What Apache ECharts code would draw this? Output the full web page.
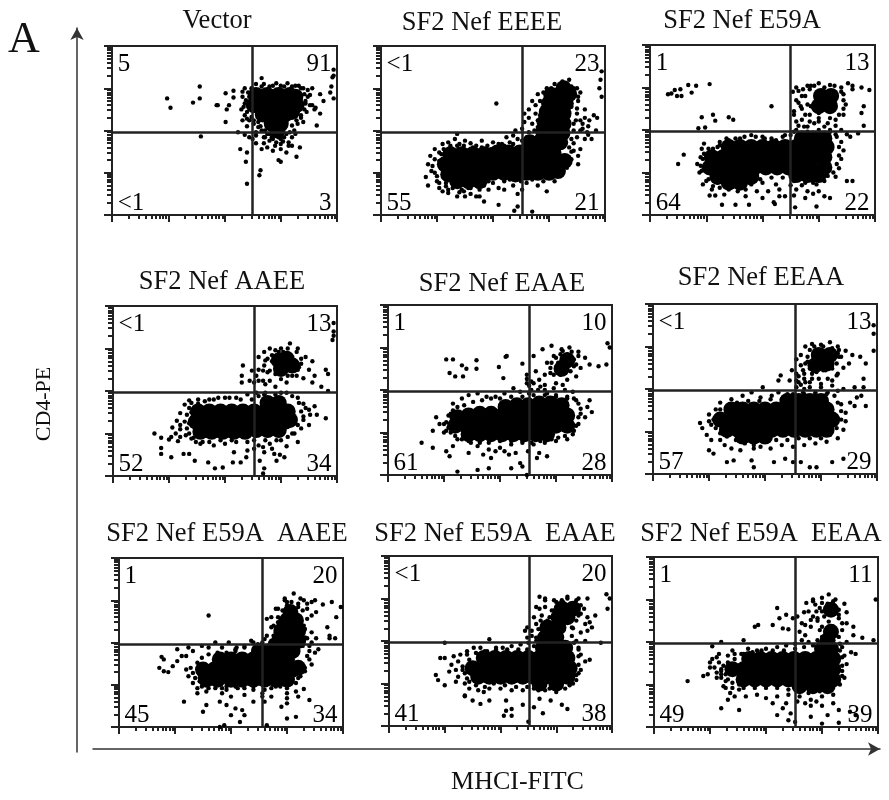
<!DOCTYPE html>
<html><head><meta charset="utf-8">
<style>html,body{margin:0;background:#fff}#c{width:889px;height:800px}</style>
<script src="https://cdn.jsdelivr.net/npm/echarts@6/dist/echarts.min.js"></script>
</head><body><div id="c"></div>
<script>
// Axis units: 50 units = one log decade (0..200 = 10^0..10^4)
const panelTitles=['Vector','SF2 Nef EEEE','SF2 Nef E59A','SF2 Nef AAEE','SF2 Nef EAAE','SF2 Nef EEAA','SF2 Nef E59A  AAEE','SF2 Nef E59A  EAAE','SF2 Nef E59A  EEAA'];
const quadrantPct=[['5','91','<1','3'],['<1','23','55','21'],['1','13','64','22'],['<1','13','52','34'],['1','10','61','28'],['<1','13','57','29'],['1','20','45','34'],['<1','20','41','38'],['1','11','49','39']];
const gateX=[125,126,125,126,126,127,128,126,126];
const gateY=[98,98,98,98,98,98,98,98,98];
const logSteps=[15,24,30,35,39,42,45,48];

const core1=[[128,142],[138,142],[148,142],[158,142],[163,140],[126,130],[136,130],[146,130],[156,130],[164,130],[134,119],[144,119],[154,119],[160,122],[142,108],[150,108],[147,100]];
const dots1=[[49,138],[52,127],[78,152],[78,138],[72,133],[94,130],[93,130],[101,144],[108,147],[104,130],[102,125],[108,139],[101,110],[116,146],[133,162],[197,172],[197,165],[196,163],[195,152],[194,145],[197,138],[185,143],[188,135],[185,120],[182,106],[181,127],[178,130],[114,78],[120,74],[119,63],[120,37],[132,53],[131,47],[148,65],[150,63],[164,69],[167,80],[155,74],[160,82],[157,82],[135,92],[133,78],[79,93],[116,140],[118,132],[115,125],[118,118],[122,112],[120,105],[126,108],[130,104],[128,98],[133,100],[118,150],[124,150],[128,155],[135,155],[140,152],[146,156],[150,153],[156,156],[160,152],[166,153],[170,150],[174,148],[174,140],[172,135],[176,130],[173,122],[168,115],[165,108],[162,100],[170,110],[160,92],[157,86],[150,84],[145,82],[140,88],[135,85],[138,80],[128,85],[122,92],[118,95],[112,98],[143,90],[150,90],[155,96],[140,96]];
const fringe1=[[117,128],[119,136],[121,145],[120,122],[124,116],[126,112],[130,110],[132,105],[136,100],[138,96],[142,92],[148,92],[153,92],[158,98],[160,106],[164,112],[168,118],[171,125],[172,132],[171,143],[168,150],[163,153],[153,152],[143,153],[133,152],[126,148],[122,140],[120,114],[128,94],[146,86],[152,87],[136,92],[163,96],[176,142],[178,150],[180,125],[150,78],[143,76],[125,90],[116,112]];

const core2=[[62,72],[72,72],[82,72],[92,72],[57,60],[67,60],[77,60],[87,60],[97,60],[60,48],[70,48],[80,48],[90,48],[68,40],[78,40],[88,40],[104,74],[114,74],[124,74],[134,74],[144,74],[154,74],[107,60],[117,60],[127,60],[137,60],[147,60],[157,60],[164,64],[100,50],[110,50],[120,48],[130,50],[140,50],[150,50],[158,52],[133,86],[143,88],[150,86],[160,86],[145,98],[153,97],[162,97],[146,110],[153,108],[163,108],[148,122],[152,120],[163,120],[150,132],[155,132],[165,132],[152,142],[160,143],[168,143],[163,150]];
const dots2=[[42,60],[45,52],[40,45],[44,70],[48,78],[50,40],[52,32],[42,35],[55,84],[60,86],[66,90],[62,82],[70,84],[75,88],[80,85],[85,82],[68,96],[90,88],[95,82],[100,86],[105,84],[110,82],[115,86],[112,92],[118,94],[122,90],[126,88],[130,92],[120,100],[126,102],[132,98],[137,100],[135,108],[140,112],[132,115],[128,110],[138,120],[132,125],[128,120],[138,130],[142,135],[135,135],[145,145],[148,150],[140,143],[155,155],[152,150],[162,158],[170,152],[175,150],[168,160],[178,145],[176,135],[170,128],[175,120],[178,112],[172,108],[180,108],[185,105],[178,100],[190,118],[193,115],[182,125],[186,112],[192,100],[185,95],[175,92],[172,85],[178,78],[170,75],[182,90],[188,90],[176,70],[168,80],[55,28],[60,30],[70,27],[75,22],[80,25],[85,22],[78,32],[88,30],[92,35],[100,38],[105,32],[110,40],[115,42],[120,45],[125,40],[130,38],[135,42],[140,35],[145,40],[150,45],[155,48],[155,40],[148,28],[118,35],[122,25],[105,12],[122,10],[135,4],[119,5],[88,22],[92,16],[126,30],[197,170],[196,160],[195,150],[197,140],[103,132],[138,90],[144,104],[146,112],[144,124],[148,98],[112,52],[118,50],[108,46],[124,50],[96,40],[58,38],[48,66],[52,74]];
const fringe2=[[46,58],[48,50],[50,46],[52,64],[54,72],[56,78],[62,80],[68,82],[74,82],[82,80],[90,80],[98,78],[52,38],[58,34],[64,32],[72,30],[80,32],[86,34],[94,40],[102,46],[108,50],[116,52],[126,52],[136,50],[144,52],[150,54],[158,50],[166,56],[170,66],[172,76],[170,90],[172,100],[174,112],[175,126],[176,140],[172,150],[165,156],[158,150],[150,142],[146,132],[144,120],[144,108],[142,96],[138,88],[128,84],[118,84],[108,84],[136,84],[112,78],[140,104],[142,118],[148,130],[153,146],[60,26],[68,22],[74,28],[96,30],[110,30],[130,46],[140,46],[148,48],[176,60],[180,102],[182,115],[184,98]];

const core3=[[70,80],[80,80],[90,80],[100,80],[110,80],[120,80],[130,80],[140,80],[150,80],[157,80],[55,68],[65,68],[75,68],[85,68],[95,68],[105,68],[115,68],[125,68],[135,68],[145,68],[155,68],[53,56],[63,56],[73,56],[83,56],[93,56],[103,56],[113,56],[123,56],[133,56],[143,56],[155,56],[60,45],[70,45],[80,45],[90,45],[130,47],[140,47],[150,47],[70,38],[80,38],[135,90],[145,90],[155,90],[152,140],[161,140],[150,128],[160,128]];
const dots3=[[16,142],[19,143],[22,147],[27,148],[28,140],[24,140],[34,153],[41,152],[37,144],[53,154],[46,115],[56,118],[58,111],[70,115],[74,112],[43,102],[49,103],[25,60],[30,71],[108,128],[64,12],[76,12],[88,12],[111,13],[110,15],[129,9],[58,23],[53,23],[120,22],[128,23],[42,60],[44,50],[45,68],[46,78],[48,84],[50,40],[47,36],[55,30],[62,32],[70,30],[66,24],[78,28],[85,30],[95,28],[105,28],[115,30],[112,36],[100,38],[90,36],[125,35],[135,35],[145,38],[155,40],[165,45],[168,55],[170,66],[172,76],[170,86],[175,95],[165,95],[160,100],[150,100],[140,104],[130,100],[125,94],[118,92],[108,90],[100,92],[90,94],[80,90],[70,88],[62,82],[130,110],[128,122],[132,132],[127,145],[130,150],[136,148],[140,152],[135,125],[138,118],[142,110],[150,110],[158,108],[165,112],[172,118],[174,130],[172,142],[170,150],[176,155],[180,148],[188,150],[195,147],[190,128],[188,120],[190,105],[135,140],[143,152],[150,155],[160,153],[140,130],[145,25],[155,22],[138,20],[148,10],[130,30],[175,40],[180,40]];
const fringe3=[[45,58],[46,52],[47,66],[48,72],[52,78],[56,78],[60,80],[62,86],[68,90],[76,90],[84,92],[94,92],[102,90],[112,88],[120,94],[128,98],[140,98],[150,98],[160,98],[166,92],[168,80],[168,70],[166,60],[163,50],[158,46],[148,36],[138,38],[128,40],[118,44],[108,44],[98,42],[88,38],[80,32],[70,32],[60,38],[52,42],[56,34],[132,105],[135,112],[128,118],[134,128],[130,135],[138,140],[142,148],[146,152],[155,150],[164,152],[170,145],[172,135],[172,125],[168,118],[160,114],[150,114],[142,118],[143,128],[146,108],[155,104],[165,105],[170,100],[178,92],[185,96],[132,146],[150,120],[137,104],[180,152],[115,22],[100,20],[85,22],[140,28],[150,28],[160,20]];

const core4=[[76,76],[86,76],[96,76],[106,76],[116,76],[126,76],[136,76],[146,76],[156,76],[74,64],[84,64],[94,64],[104,64],[114,64],[124,64],[134,64],[144,64],[154,64],[158,66],[78,52],[88,52],[98,52],[108,52],[118,52],[128,54],[138,54],[148,54],[138,86],[148,86],[155,138],[148,136],[150,126],[160,130]];
const dots4=[[37,50],[43,45],[43,33],[43,26],[52,22],[50,43],[53,57],[57,65],[60,74],[64,84],[68,89],[58,41],[63,26],[68,26],[73,18],[85,16],[91,9],[98,10],[107,16],[114,16],[119,22],[134,3],[135,9],[131,18],[146,18],[149,25],[153,22],[60,55],[65,48],[68,62],[70,75],[72,45],[76,85],[82,88],[90,90],[100,92],[110,92],[120,96],[128,98],[135,96],[145,96],[155,98],[165,92],[170,85],[175,78],[170,70],[165,60],[180,82],[182,72],[190,68],[175,60],[160,50],[150,42],[140,38],[130,36],[120,40],[110,40],[100,38],[90,36],[80,40],[120,30],[108,28],[135,28],[142,32],[155,35],[165,40],[124,124],[115,110],[115,118],[122,112],[116,130],[130,140],[135,146],[140,150],[145,148],[150,150],[158,156],[165,150],[172,140],[178,135],[175,125],[170,115],[180,118],[190,125],[192,120],[186,105],[178,110],[192,100],[130,125],[135,130],[138,122],[142,135],[145,120],[130,112],[136,108],[145,105],[155,110],[160,118],[165,125],[168,132],[148,142],[138,138],[197,180],[197,170],[197,165],[196,160]];
const fringe4=[[66,72],[64,64],[66,56],[68,50],[70,44],[74,40],[68,80],[70,86],[76,90],[86,90],[94,92],[104,92],[114,90],[124,90],[130,94],[136,98],[150,98],[160,94],[166,86],[168,76],[170,66],[168,56],[162,50],[156,46],[146,42],[136,42],[126,42],[116,46],[106,42],[96,42],[86,40],[78,38],[172,80],[176,72],[140,112],[150,114],[156,118],[164,118],[166,128],[168,138],[164,146],[156,150],[148,146],[142,142],[136,136],[134,124],[140,124],[146,136],[150,122],[158,140],[162,136],[152,146],[146,128],[128,118],[126,110],[134,112],[60,60],[56,50],[52,46],[60,46],[126,32],[134,34],[144,26]];

const core5=[[105,80],[115,82],[125,82],[135,84],[145,84],[155,82],[62,68],[72,70],[82,72],[92,72],[102,70],[112,70],[122,70],[132,70],[142,70],[152,70],[160,70],[60,58],[70,58],[80,58],[90,58],[100,58],[110,58],[120,58],[130,58],[140,58],[150,58],[160,58],[72,48],[82,48],[92,48],[102,48],[112,48],[122,48],[132,48],[142,48],[160,135],[155,125]];
const dots5=[[52,136],[58,136],[66,129],[70,125],[79,135],[79,125],[55,120],[60,116],[67,116],[106,140],[105,139],[99,127],[103,114],[120,131],[124,118],[124,113],[126,105],[124,108],[128,110],[43,68],[46,60],[40,52],[50,50],[55,58],[56,72],[58,84],[66,90],[72,94],[80,96],[88,92],[96,92],[104,96],[112,102],[118,98],[126,96],[134,100],[142,96],[150,94],[160,92],[168,88],[172,78],[170,68],[168,58],[165,48],[160,42],[150,40],[140,38],[130,36],[120,38],[110,36],[100,32],[90,30],[80,34],[72,40],[62,42],[58,34],[52,28],[72,26],[85,24],[92,20],[108,24],[125,28],[135,26],[142,22],[118,14],[133,20],[120,10],[110,8],[62,4],[80,6],[90,8],[124,0],[30,38],[40,32],[55,22],[178,80],[182,74],[176,68],[180,88],[165,98],[135,112],[140,106],[132,122],[140,118],[145,126],[142,132],[148,140],[155,148],[162,150],[170,145],[176,138],[180,130],[172,126],[168,116],[160,112],[150,108],[158,100],[138,148],[130,140],[188,128],[195,130],[198,150],[196,155],[146,152],[154,142],[166,136],[148,118]];
const fringe5=[[54,70],[52,62],[54,56],[52,52],[50,60],[56,50],[60,46],[66,42],[74,38],[82,38],[90,38],[100,40],[110,40],[120,40],[128,38],[136,40],[146,42],[152,44],[158,46],[166,52],[170,60],[172,72],[170,84],[166,90],[160,90],[150,92],[140,94],[130,94],[120,92],[110,92],[100,90],[92,90],[84,88],[76,86],[68,82],[62,80],[58,76],[150,125],[154,118],[163,122],[168,130],[170,140],[164,145],[156,146],[150,138],[146,132],[145,120],[152,132],[166,128],[160,142],[158,122],[136,104],[130,108],[148,102],[128,100],[140,100],[156,106],[96,28],[104,28],[114,26]];

const core6=[[70,76],[80,76],[90,76],[100,76],[110,76],[120,76],[130,76],[140,76],[150,76],[155,76],[60,64],[70,64],[80,64],[90,64],[100,64],[110,64],[120,64],[130,64],[140,64],[150,64],[160,64],[66,52],[76,52],[86,52],[96,52],[106,52],[116,52],[126,52],[136,52],[146,52],[155,52],[80,44],[90,44],[100,44],[120,86],[130,86],[140,86],[150,86],[148,140],[158,140],[145,128],[155,130]];
const dots6=[[42,60],[44,54],[48,46],[50,62],[50,70],[52,40],[56,76],[60,40],[64,34],[70,30],[78,28],[90,30],[96,32],[50,28],[54,24],[66,14],[72,16],[88,16],[90,8],[108,14],[118,18],[125,14],[132,14],[140,8],[146,8],[160,14],[170,18],[105,30],[115,34],[125,32],[135,34],[145,36],[155,38],[165,42],[170,52],[172,62],[172,72],[168,82],[176,84],[182,90],[186,92],[180,80],[190,80],[60,84],[70,88],[80,92],[88,96],[96,90],[106,92],[112,96],[120,94],[128,102],[122,110],[128,118],[124,122],[112,110],[114,116],[134,96],[145,96],[156,96],[165,98],[170,100],[128,135],[132,140],[136,150],[142,153],[150,152],[158,155],[165,150],[172,145],[178,140],[175,130],[170,125],[165,118],[160,110],[150,106],[140,108],[132,105],[135,118],[142,118],[132,128],[185,138],[190,130],[188,112],[188,102],[180,102],[197,145],[197,165],[197,175],[98,102],[166,138],[138,132],[154,122]];
const fringe6=[[58,68],[54,64],[52,58],[56,54],[60,48],[66,44],[74,40],[82,36],[90,34],[100,38],[110,40],[120,40],[130,42],[140,42],[150,42],[158,46],[164,54],[168,64],[168,74],[165,84],[162,92],[155,94],[145,94],[135,94],[125,94],[115,88],[105,88],[95,86],[85,86],[75,84],[65,78],[60,76],[136,108],[135,112],[134,122],[136,130],[138,138],[140,146],[144,150],[152,150],[160,148],[166,146],[168,138],[164,130],[160,124],[152,122],[146,120],[140,124],[142,112],[148,112],[156,112],[164,116],[140,102],[130,108],[135,100],[150,102],[160,104],[143,134],[155,128],[165,142],[128,110],[130,115]];

const core7=[[90,80],[100,80],[110,80],[120,80],[130,80],[140,80],[150,80],[125,90],[135,90],[145,90],[155,90],[75,68],[85,68],[95,68],[105,68],[115,68],[125,68],[135,68],[145,68],[155,68],[160,70],[78,56],[88,56],[100,56],[110,56],[120,56],[130,56],[140,56],[150,56],[143,102],[150,102],[160,102],[145,114],[152,114],[160,114],[150,126],[158,126],[153,136]];
const dots7=[[38,83],[40,80],[36,70],[40,66],[44,65],[48,72],[52,78],[56,84],[60,68],[62,60],[66,52],[70,46],[72,58],[60,84],[66,90],[74,96],[80,94],[86,100],[92,94],[98,100],[104,92],[112,96],[118,102],[124,98],[130,104],[52,92],[62,94],[70,40],[78,42],[86,46],[96,44],[106,46],[112,50],[120,44],[128,40],[136,46],[144,48],[152,52],[160,58],[166,66],[172,74],[168,84],[175,88],[170,96],[168,105],[172,112],[165,120],[172,132],[168,140],[176,136],[182,145],[172,148],[162,152],[156,158],[148,152],[140,140],[132,128],[136,118],[132,108],[140,112],[142,130],[150,148],[190,148],[198,142],[194,130],[186,118],[188,108],[188,105],[193,105],[150,40],[158,42],[165,45],[130,30],[120,30],[112,38],[100,36],[96,26],[90,30],[78,26],[75,18],[58,30],[92,40],[110,20],[104,22],[100,14],[108,6],[112,14],[145,24],[150,28],[170,32],[158,12],[90,0],[94,2],[132,2],[80,132],[105,94],[150,10]];
const fringe7=[[64,70],[66,64],[68,58],[72,54],[74,48],[70,76],[74,82],[80,86],[88,88],[96,88],[104,90],[112,94],[120,100],[128,100],[136,102],[142,106],[144,116],[144,128],[146,138],[150,144],[160,146],[164,138],[168,128],[166,116],[166,106],[164,96],[170,90],[170,80],[166,70],[162,60],[158,52],[150,46],[140,48],[130,44],[120,48],[112,46],[104,48],[96,48],[86,50],[80,46],[138,108],[135,100],[138,120],[136,130],[142,140],[148,150],[154,148],[160,142],[150,134],[142,124],[172,100],[176,105],[178,92],[165,150],[175,150],[168,146],[92,46],[128,36],[136,36],[150,34],[160,36]];

const core8=[[85,80],[95,80],[105,80],[115,80],[125,80],[135,80],[145,80],[155,80],[160,80],[75,68],[85,68],[95,68],[105,68],[115,68],[125,68],[135,68],[145,68],[155,68],[162,68],[80,58],[90,58],[100,58],[110,58],[120,58],[130,58],[140,58],[150,58],[160,58],[135,50],[150,50],[138,92],[148,92],[158,92],[140,104],[150,104],[142,116],[152,116],[152,128],[160,128],[155,138],[165,138]];
const dots8=[[46,80],[50,80],[42,60],[44,54],[50,48],[54,64],[56,72],[58,82],[62,58],[66,66],[68,50],[60,52],[64,84],[70,88],[76,92],[82,92],[88,88],[96,92],[102,92],[110,94],[118,96],[125,98],[72,44],[68,36],[80,42],[90,44],[100,44],[110,42],[120,42],[130,44],[140,42],[150,40],[158,44],[165,50],[168,60],[172,66],[176,76],[180,78],[172,84],[170,92],[168,100],[172,110],[178,112],[176,120],[170,130],[175,138],[178,150],[170,150],[160,152],[155,148],[148,148],[140,150],[135,152],[132,140],[130,128],[132,120],[128,112],[122,112],[124,104],[165,115],[180,122],[185,130],[196,138],[198,150],[195,155],[182,116],[190,98],[68,35],[75,30],[90,30],[105,30],[120,25],[130,22],[135,32],[145,30],[155,25],[160,20],[110,20],[105,18],[103,12],[110,12],[125,5],[138,15],[50,98],[90,102],[85,40],[82,26]];
const fringe8=[[66,70],[68,62],[70,56],[72,52],[78,48],[86,46],[94,50],[104,48],[114,46],[124,46],[134,42],[144,44],[154,46],[162,48],[168,54],[170,62],[170,72],[170,82],[170,90],[166,98],[164,106],[164,116],[168,124],[172,132],[172,142],[168,148],[160,150],[150,146],[146,136],[144,128],[136,124],[134,114],[132,104],[130,94],[124,90],[116,90],[106,90],[96,90],[86,88],[78,86],[72,78],[137,130],[135,138],[140,140],[148,136],[156,146],[140,148],[132,100],[128,106],[124,116],[70,84],[62,76],[60,66],[142,124],[176,100],[178,128]];

const core9=[[85,80],[95,80],[105,80],[115,80],[125,80],[135,80],[145,80],[155,80],[160,80],[70,68],[80,68],[90,68],[100,68],[110,68],[120,68],[130,68],[140,68],[150,68],[160,68],[80,56],[90,56],[100,56],[110,56],[120,56],[130,56],[140,56],[150,56],[160,56],[130,48],[142,48],[155,48],[150,92],[158,92],[155,102],[158,112],[158,138]];
const dots9=[[30,54],[44,60],[48,62],[50,70],[50,76],[52,80],[56,82],[58,76],[60,68],[60,62],[64,54],[56,58],[70,46],[76,44],[68,40],[62,48],[72,36],[66,84],[72,86],[78,86],[84,92],[92,90],[100,92],[110,94],[118,96],[126,98],[132,102],[138,100],[60,22],[76,20],[66,32],[82,36],[92,38],[100,34],[110,36],[120,38],[130,36],[138,40],[148,42],[158,44],[166,50],[170,58],[168,66],[172,74],[170,84],[176,88],[168,94],[172,100],[180,86],[165,106],[168,114],[172,122],[178,118],[165,128],[172,135],[170,145],[162,150],[156,156],[150,152],[142,150],[136,146],[134,135],[128,130],[135,120],[130,112],[140,118],[146,125],[152,130],[148,140],[158,140],[165,138],[155,145],[142,130],[124,128],[118,132],[110,140],[112,128],[106,120],[93,120],[90,118],[115,116],[120,115],[60,100],[80,102],[52,95],[198,150],[186,105],[178,108],[196,102],[135,28],[140,25],[145,30],[150,25],[160,28],[165,20],[175,18],[155,14],[140,12],[120,8],[122,16],[115,22],[110,14],[126,6],[180,14],[165,5],[150,4]];
const fringe9=[[62,72],[60,66],[64,62],[66,56],[70,52],[76,50],[80,46],[90,46],[100,46],[110,46],[120,44],[130,42],[140,44],[150,44],[158,46],[164,52],[168,60],[168,72],[168,82],[166,90],[166,98],[162,108],[150,106],[146,102],[142,96],[134,94],[126,92],[116,90],[106,90],[96,90],[88,88],[80,86],[72,80],[66,76],[155,112],[160,118],[150,118],[146,128],[140,126],[138,136],[144,144],[150,146],[160,148],[165,132],[168,122],[156,124],[162,138],[156,134],[150,136],[145,136],[142,148],[132,122],[135,108],[148,114],[54,70],[56,64],[60,58],[64,46],[70,90],[58,86],[106,28],[118,28],[128,30],[140,32],[150,36],[160,38]];

const coreSets=[core1,core2,core3,core4,core5,core6,core7,core8,core9];
const dotSets=[dots1.concat(fringe1),dots2.concat(fringe2),dots3.concat(fringe3),dots4.concat(fringe4),dots5.concat(fringe5),dots6.concat(fringe6),dots7.concat(fringe7),dots8.concat(fringe8),dots9.concat(fringe9)];

// layout: [left, top, width, height] of every panel and title centre [x, y]
const panelBox=[[112,46,225,169],[381,46,224,169],[650,45,225,170],[113,306,224,170],[388,305,224,170],[653,304,224,170],[119,558,224,169],[389,556,223,170],[654,557,224,170]];
const titleAt=[[217,21],[482,23],[742,21],[222,282],[502,284],[761,278],[227,534],[495,534],[761,534]];

const serif='"Liberation Serif","Times New Roman",serif';
const minorValues=[];
for(let d=0;d<4;d++)for(const s of logSteps)minorValues.push(d*50+s);

const grid=[],xAxis=[],yAxis=[],series=[],title=[];
panelBox.forEach((b,i)=>{
  const xi=xAxis.length,yi=yAxis.length,gi=grid.length;
  grid.push({left:b[0],top:b[1],width:b[2],height:b[3],show:true,borderColor:'#222',borderWidth:2,backgroundColor:'transparent'});
  const mk=(len,pos,extra)=>({type:'value',gridIndex:gi,min:0,max:200,interval:50,position:pos,splitLine:{show:false},axisLabel:{show:false},axisLine:{show:false},axisTick:Object.assign({show:true,length:len,inside:false,lineStyle:{color:'#222',width:2}},extra||{})});
  xAxis.push(mk(7,'bottom'),mk(4,'bottom',{customValues:minorValues}));
  yAxis.push(mk(8,'left'),mk(5,'left',{customValues:minorValues}));
  series.push({type:'scatter',name:panelTitles[i]+' core',xAxisIndex:xi,yAxisIndex:yi,data:coreSets[i],symbolSize:16,itemStyle:{color:'#000',opacity:1},silent:true,animation:false});
  series.push({type:'scatter',name:panelTitles[i],xAxisIndex:xi,yAxisIndex:yi,data:dotSets[i],symbolSize:4.4,itemStyle:{color:'#000',opacity:1},silent:true,animation:false,
    markLine:{silent:true,symbol:'none',animation:false,label:{show:false},lineStyle:{color:'#222',width:2.5,type:'solid',opacity:1},data:[{xAxis:gateX[i]},{yAxis:gateY[i]}]}});
  const q=quadrantPct[i];
  const lab=(xv,yv,text,pos)=>({value:[xv,yv],label:{show:true,formatter:text,position:pos,distance:0}});
  series.push({type:'scatter',name:panelTitles[i]+' quadrants',xAxisIndex:xi,yAxisIndex:yi,symbolSize:0,silent:true,animation:false,z:5,
    itemStyle:{opacity:1},label:{show:true,fontFamily:serif,fontSize:25,color:'#000',opacity:1},
    data:[lab(5,178,q[0],'right'),lab(195,178,q[1],'left'),lab(5,14,q[2],'right'),lab(195,14,q[3],'left')]});
  title.push({text:panelTitles[i],left:titleAt[i][0],top:titleAt[i][1],padding:0,textAlign:'center',textVerticalAlign:'middle',textStyle:{fontFamily:serif,fontSize:26.5,fontWeight:'normal',color:'#111'}});
});
title.push({text:'A',left:8,top:18,padding:0,textStyle:{fontFamily:serif,fontSize:44,fontWeight:'normal',color:'#111'}});

// big outer axes with arrows
const gx=grid.length;
grid.push({left:93,top:30,width:787,height:722});
grid.push({left:77,top:28,width:1,height:724});
const arrowLine={show:true,symbol:['none','arrow'],symbolSize:[10,12],lineStyle:{color:'#333',width:1.5}};
xAxis.push({type:'value',gridIndex:gx,min:0,max:1,position:'bottom',name:'MHCI-FITC',nameLocation:'middle',nameGap:20,nameTextStyle:{fontFamily:serif,fontSize:26,color:'#111',padding:[0,0,0,62]},axisLine:arrowLine,axisTick:{show:false},axisLabel:{show:false},splitLine:{show:false}});
yAxis.push({type:'value',gridIndex:gx,min:0,max:1,show:false});
xAxis.push({type:'value',gridIndex:gx+1,min:0,max:1,show:false});
yAxis.push({type:'value',gridIndex:gx+1,min:0,max:1,position:'left',name:'CD4-PE',nameLocation:'middle',nameGap:22,nameTextStyle:{fontFamily:serif,fontSize:22,color:'#111',padding:[0,28,0,0]},axisLine:arrowLine,axisTick:{show:false},axisLabel:{show:false},splitLine:{show:false}});

const chart=echarts.init(document.getElementById('c'),null,{renderer:'canvas'});
chart.setOption({animation:false,backgroundColor:'#fff',title,grid,xAxis,yAxis,series});
</script></body></html>
